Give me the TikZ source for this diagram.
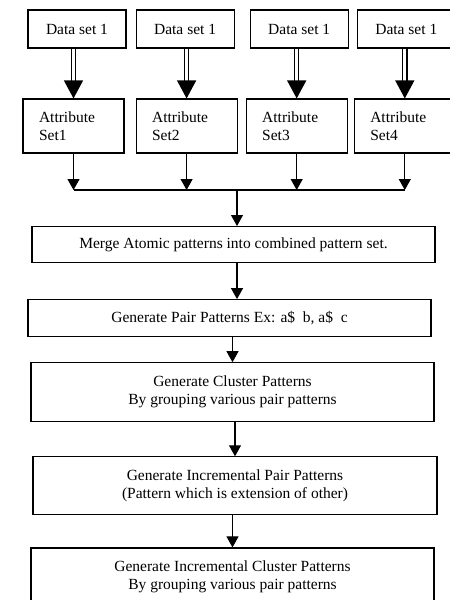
\documentclass[tikz,border=0pt]{standalone}
\usepackage{fontspec}
\setmainfont{Liberation Serif}
\usetikzlibrary{arrows.meta, positioning}

\begin{document}
\begin{tikzpicture}[
    x=1pt, y=1pt,
    node distance=10pt and 10pt,
    datablock/.style={rectangle, draw, line width=1.1pt, minimum width=98pt, minimum height=38pt, inner sep=0pt, font=\fontsize{15.5}{18}\selectfont},
    attrblock/.style={rectangle, draw, line width=1.1pt, minimum width=101pt, minimum height=54pt, text width=69pt, inner xsep=16pt, inner ysep=0pt, align=left, font=\fontsize{15.5}{18}\selectfont},
    stepblock/.style={rectangle, draw, line width=1.1pt, minimum width=403pt, inner sep=0pt, align=center, font=\fontsize{15.5}{18}\selectfont},
    line/.style={draw, line width=1.1pt},
    arr/.style={draw, line width=1.1pt, -{Triangle[width=12pt, length=11pt]}},
    dblarr/.style={draw, double, double distance=3pt, line width=1.2pt, -{Triangle[width=19pt, length=18pt]}}
]
    \useasboundingbox (0,0) rectangle (450,-600);

    % Data set nodes
    \node [datablock] at (77,-29) (d1) {Data set 1};
    \node [datablock, right=9pt of d1] (d2) {Data set 1};
    \node [datablock, right=15pt of d2] (d3) {Data set 1};
    \node [datablock, right=8pt of d3] (d4) {Data set 1};

    % Attribute nodes
    \node [attrblock] at (73.5,-126) (a1) {Attribute\\Set1};
    \node [attrblock, right=11pt of a1] (a2) {Attribute\\Set2};
    \node [attrblock, right=8pt of a2] (a3) {Attribute\\Set3};
    \node [attrblock, right=6pt of a3] (a4) {Attribute\\Set4};

    \coordinate (bus) at (237,-190);

    % Pattern steps
    \node [stepblock, minimum height=36pt, below=36pt of bus, xshift=-3.5pt] (merge) {Merge Atomic patterns into combined pattern set.};
    \node [stepblock, minimum height=37pt, below=36pt of merge, xshift=-4pt] (pair) {Generate Pair Patterns Ex: a\$~~b, a\$~~c};
    \node [stepblock, minimum height=59pt, below=25pt of pair, xshift=3pt] (cluster) {Generate Cluster Patterns\\By grouping various pair patterns};
    \node [stepblock, minimum width=404pt, minimum height=58pt, below=34pt of cluster, xshift=2.5pt] (inc) {Generate Incremental Pair Patterns\\(Pattern which is extension of other)};
    \node [stepblock, minimum height=58pt, below=32pt of inc, xshift=-2.5pt] (last) {Generate Incremental Cluster Patterns\\By grouping various pair patterns};

    % Connecting lines
    \foreach \i in {1,...,4} {
        \path [dblarr] (a\i |- d\i.south) -- (a\i);
        \path [arr] (a\i) -- (a\i |- bus);
    }
    \path [line] (a1 |- bus) -- (a4 |- bus);
    \path [arr] (bus) -- (merge.north -| bus);
    \path [arr] (merge.south -| bus) -- (pair.north -| bus);
    \path [arr] (pair.south -| cluster) -- (cluster);
    \path [arr] (cluster.south -| inc) -- (inc);
    \path [arr] (inc.south -| last) -- (last);
\end{tikzpicture}
\end{document}
